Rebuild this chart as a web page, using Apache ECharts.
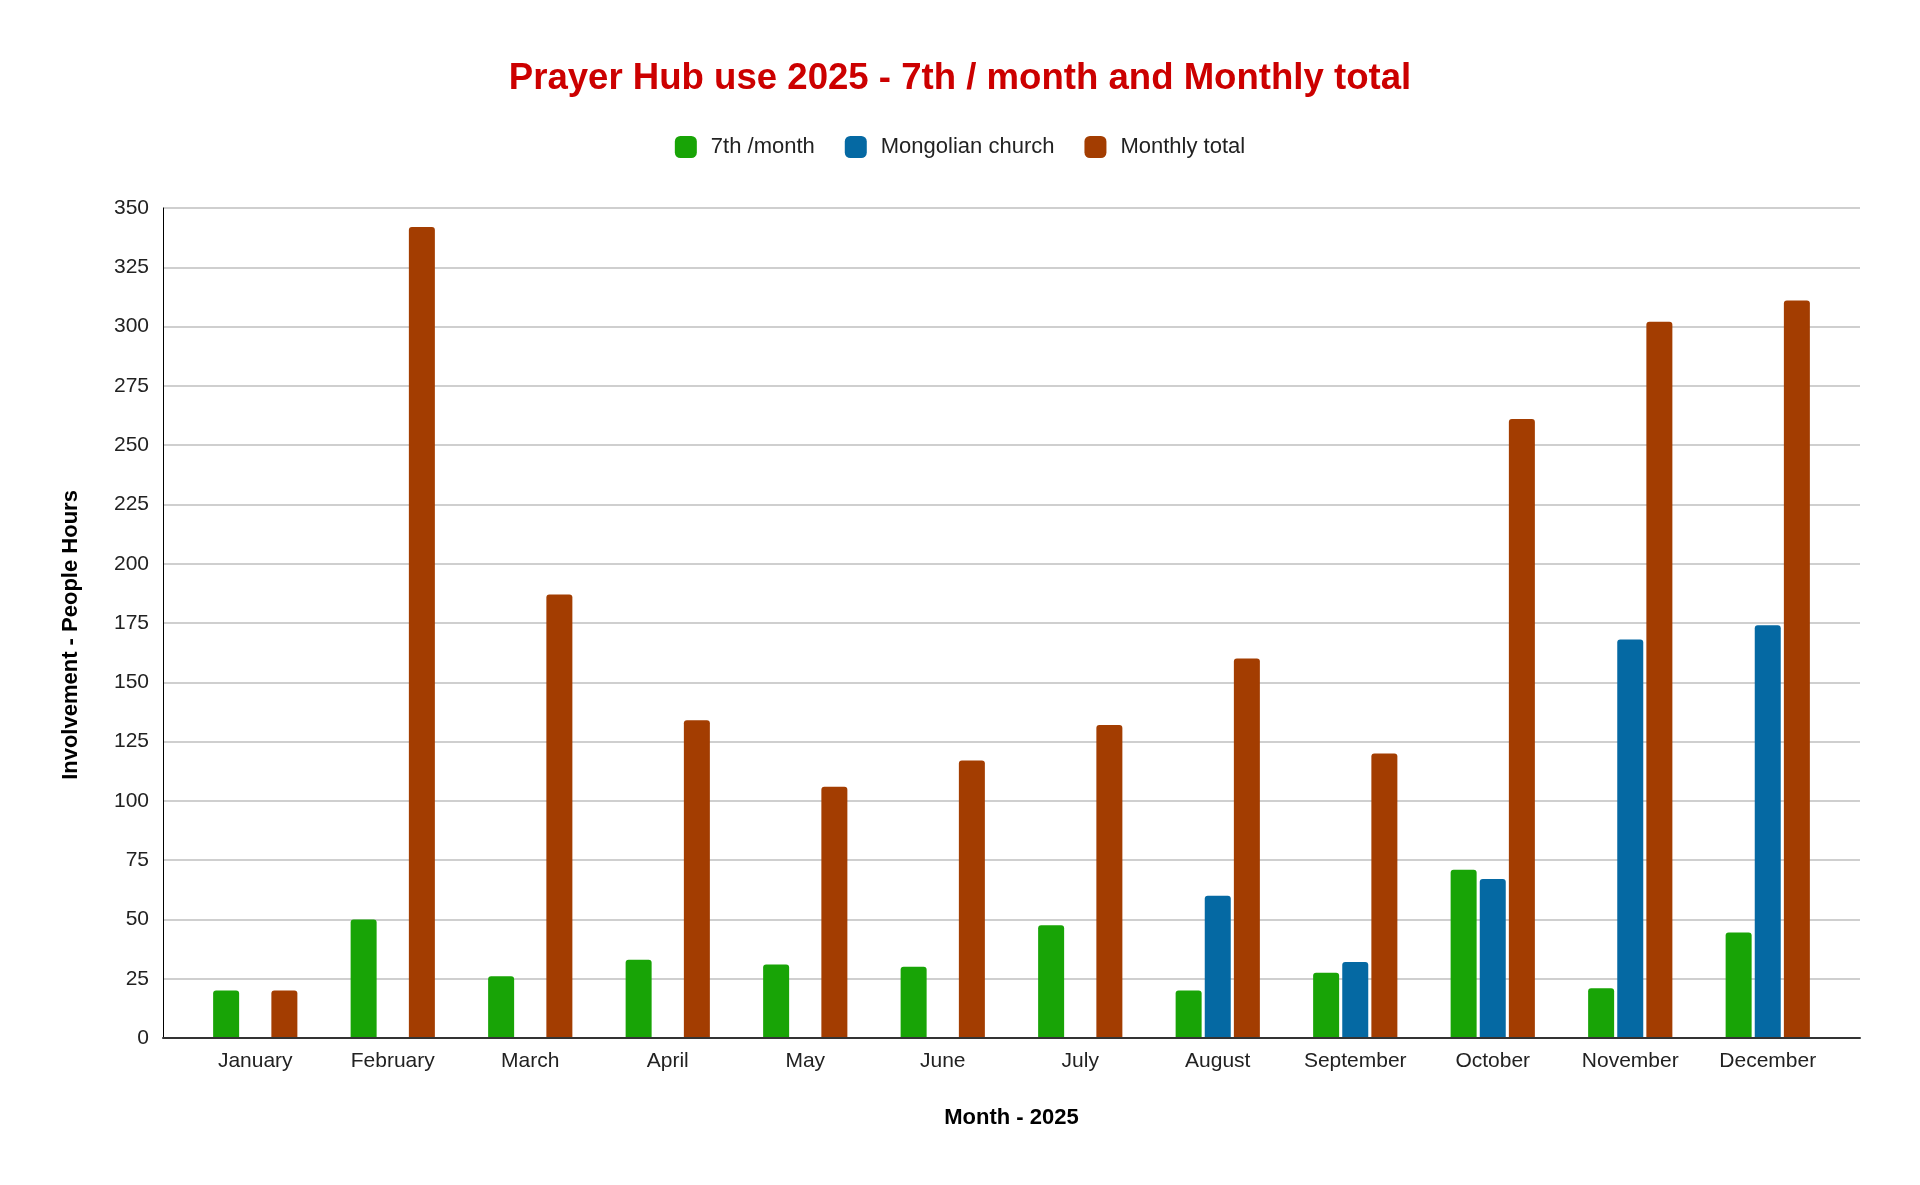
<!DOCTYPE html>
<html lang="en">
<head>
    <meta charset="UTF-8">
    <title>Prayer Hub use 2025</title>
    <script src="https://cdn.jsdelivr.net/npm/echarts@6/dist/echarts.min.js"></script>
    <style>
        html, body { margin: 0; padding: 0; background: #fff; }
        #main { width: 1920px; height: 1185px; }
    </style>
</head>
<body>
<div id="main"></div>
<script>
    // data
    var months = ['January', 'February', 'March', 'April', 'May', 'June',
        'July', 'August', 'September', 'October', 'November', 'December'];
    var seventhMonth = [20, 50, 26, 33, 31, 30, 47.5, 20, 27.5, 71, 21, 44.5];
    var mongolianChurch = [null, null, null, null, null, null, null, 60, 32, 67, 168, 174];
    var monthlyTotal = [20, 342, 187, 134, 106, 117, 132, 160, 120, 261, 302, 311];
    var yTicks = { min: 0, max: 350, step: 25 };

    var font = "'Liberation Sans', Arial, sans-serif";

    function barSeries(name, data, color) {
        return {
            name: name,
            type: 'bar',
            xAxisIndex: 1,
            yAxisIndex: 1,
            data: data,
            barWidth: 26,
            barGap: '12%',
            itemStyle: { color: color, borderRadius: [3, 3, 0, 0] }
        };
    }

    var myChart = echarts.init(document.getElementById('main'));
    var option = {
        backgroundColor: '#fff',
        textStyle: { fontFamily: font },
        title: {
            text: 'Prayer Hub use 2025 - 7th / month and Monthly total',
            left: 'center',
            top: 55,
            textStyle: { color: '#cc0000', fontSize: 36.6, fontWeight: 'bold', fontFamily: font }
        },
        legend: {
            top: 131,
            left: 'center',
            itemWidth: 22,
            itemHeight: 22,
            itemGap: 30,
            icon: 'roundRect',
            textStyle: { fontSize: 22, color: '#222', fontFamily: font, padding: [0, 0, 0, 9] },
            data: ['7th /month', 'Mongolian church', 'Monthly total']
        },
        grid: [
            { left: 163, right: 60, top: 208, bottom: 147 },
            { left: 186.5, right: 83.5, top: 208, bottom: 147 }
        ],
        xAxis: [
            {
                gridIndex: 0,
                type: 'value',
                min: 0,
                max: 1,
                z: 5,
                axisLine: { show: true, onZero: false, lineStyle: { color: '#333', width: 2 } },
                axisTick: { show: false },
                axisLabel: { show: false },
                splitLine: { show: false },
                name: 'Month - 2025',
                nameLocation: 'middle',
                nameGap: 69,
                nameTextStyle: { fontSize: 22, fontWeight: 'bold', color: '#000', fontFamily: font }
            },
            {
                gridIndex: 1,
                type: 'category',
                data: months,
                axisLine: { show: false },
                axisTick: { show: false },
                axisLabel: { fontSize: 21, color: '#222', margin: 13, fontFamily: font }
            }
        ],
        yAxis: [
            {
                gridIndex: 0,
                type: 'value',
                min: yTicks.min,
                max: yTicks.max,
                interval: yTicks.step,
                axisLine: { show: true, lineStyle: { color: '#000', width: 1 } },
                axisTick: { show: false },
                axisLabel: { fontSize: 21, color: '#222', margin: 14, fontFamily: font },
                splitLine: { lineStyle: { color: '#cfcfcf', width: 2 } },
                name: 'Involvement - People Hours',
                nameLocation: 'middle',
                nameRotate: 90,
                nameGap: 81,
                nameTextStyle: {
                    fontSize: 22, fontWeight: 'bold', color: '#000', fontFamily: font,
                    padding: [0, 24, 0, 0]
                }
            },
            {
                gridIndex: 1,
                type: 'value',
                min: yTicks.min,
                max: yTicks.max,
                show: false
            }
        ],
        series: [
            barSeries('7th /month', seventhMonth, '#18a406'),
            barSeries('Mongolian church', mongolianChurch, '#0569a3'),
            barSeries('Monthly total', monthlyTotal, '#a33d01')
        ]
    };
    myChart.setOption(option);
</script>
</body>
</html>
